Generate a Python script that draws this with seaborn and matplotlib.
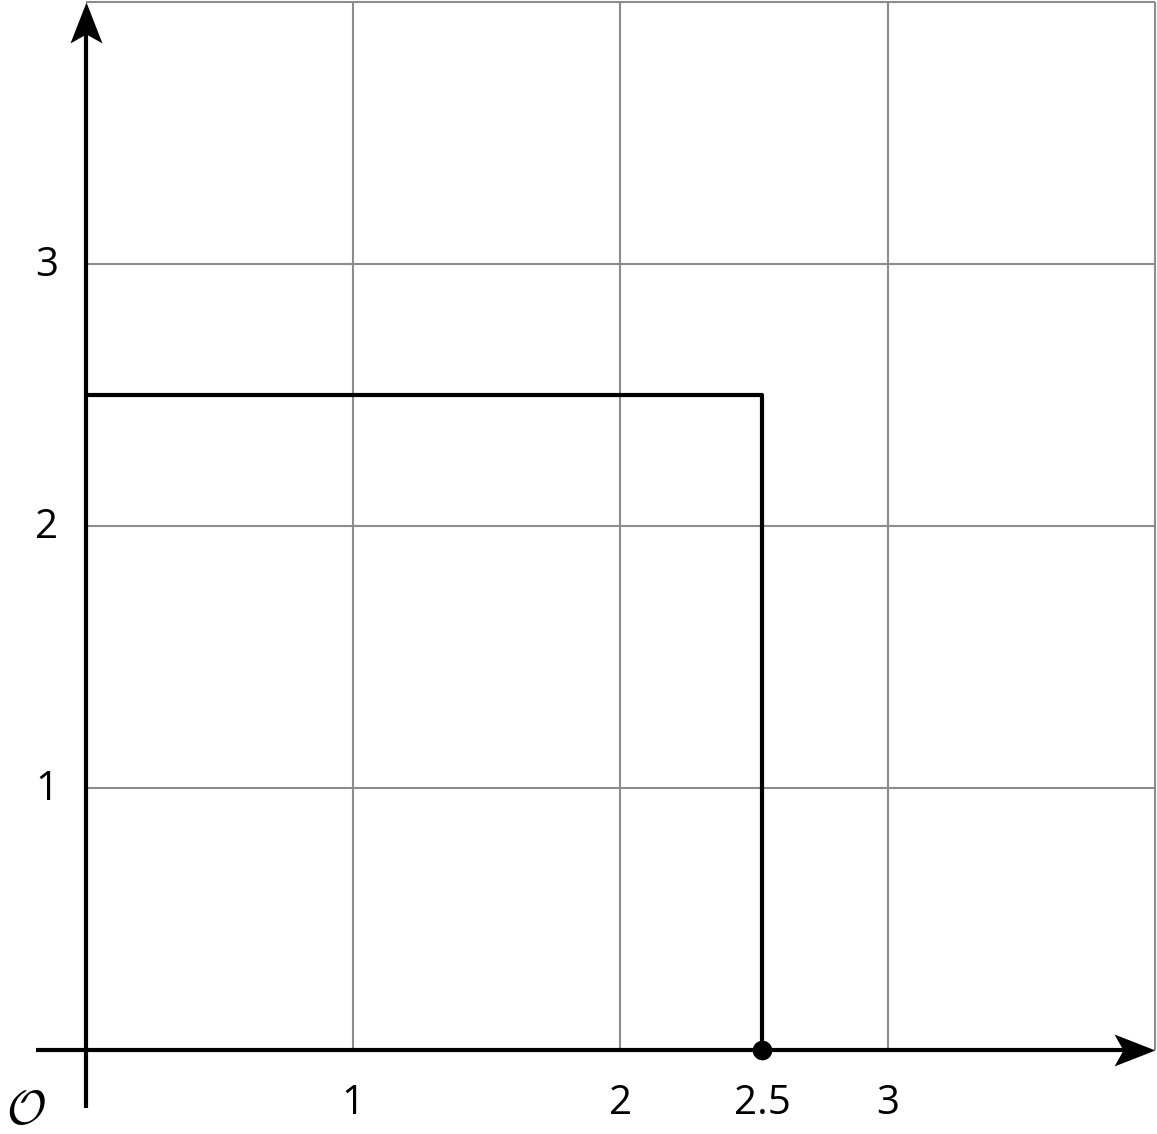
import matplotlib
matplotlib.use("Agg")
import matplotlib.pyplot as plt
import seaborn as sns
import pandas as pd
import numpy as np
from matplotlib.path import Path

# ---- data ----
x_ticks = [1, 2, 2.53, 3]
x_tick_labels = ["1", "2", "2.5", "3"]
y_ticks = [1, 2, 3]
y_tick_labels = ["1", "2", "3"]
grid_x = [1, 2, 3, 4]
grid_y = [1, 2, 3, 4]
path_x = [0, 2.53, 2.53]
path_y = [2.5, 2.5, 0]
point_x = [2.53]
point_y = [0]
origin_label = r"$\mathcal{O}$"

sns.set_theme(style="white")
plt.rcParams["font.family"] = ["Open Sans", "DejaVu Sans"]

fig = plt.figure(figsize=(11.57, 11.34), dpi=100)
ax = fig.add_axes([0, 0, 1, 1])
ax.set_xlim(-0.3218, 4.0075)
ax.set_ylim(-0.3206, 4.0076)
ax.axis("off")

grid_color = "#8c8c8c"
ax.vlines(grid_x, 0, 4, colors=grid_color, linewidth=1.5, zorder=1)
ax.hlines(grid_y, 0, 4, colors=grid_color, linewidth=1.5, zorder=1)

# axes lines
ax.plot([-0.187, 3.97], [0, 0], color="black", linewidth=3, zorder=3, solid_capstyle="butt")
ax.plot([0, 0], [-0.221, 3.97], color="black", linewidth=3, zorder=3, solid_capstyle="butt")

# stealth arrowheads as custom markers
right_head = Path([(0, 0), (-41, 16), (-32, 0), (-41, -16), (0, 0)],
                  [Path.MOVETO, Path.LINETO, Path.LINETO, Path.LINETO, Path.CLOSEPOLY])
up_head = Path([(0, 0), (16, -41), (0, -32), (-16, -41), (0, 0)],
               [Path.MOVETO, Path.LINETO, Path.LINETO, Path.LINETO, Path.CLOSEPOLY])
ax.plot([4.0], [0], marker=right_head, markersize=59, color="black",
        markeredgewidth=0, linestyle="none", zorder=4, clip_on=False)
ax.plot([0], [4.0], marker=up_head, markersize=59, color="black",
        markeredgewidth=0, linestyle="none", zorder=4, clip_on=False)

# rectangle path
df = pd.DataFrame({"x": path_x, "y": path_y})
sns.lineplot(data=df, x="x", y="y", sort=False, estimator=None, color="black",
             linewidth=3, ax=ax, zorder=5)
sns.scatterplot(x=point_x, y=point_y, color="black", s=200, edgecolor="black",
                linewidth=0, ax=ax, zorder=6)
ax.set_xlim(-0.3218, 4.0075)
ax.set_ylim(-0.3206, 4.0076)
ax.axis("off")

for xv, lab in zip(x_ticks, x_tick_labels):
    ax.text(xv, -0.206, lab, ha="center", va="center", fontsize=29, color="black")
for yv, lab in zip(y_ticks, y_tick_labels):
    ax.text(-0.146, yv - 0.006, lab, ha="center", va="center", fontsize=29, color="black")

ax.text(-0.226, -0.232, origin_label, ha="center", va="center", fontsize=35,
        color="black", math_fontfamily="cm")

fig.savefig("out.png", dpi=100)
